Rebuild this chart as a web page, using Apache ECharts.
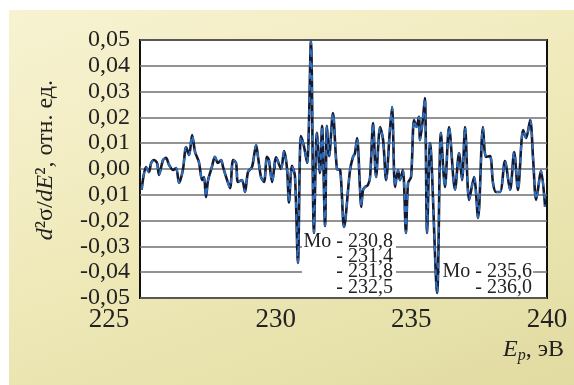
<!DOCTYPE html>
<html>
<head>
<meta charset="utf-8">
<script src="https://cdn.jsdelivr.net/npm/echarts@6/dist/echarts.min.js"></script>
<style>
  html, body { margin: 0; padding: 0; background: #fff; }
  #bg {
    position: absolute; left: 9px; top: 10px; right: 0; bottom: 0;
    background: linear-gradient(160deg, #f7f3d2 0%, #efe9b9 50%, #e1dba1 100%);
  }
  #main { position: absolute; left: 0; top: 0; width: 574px; height: 385px; }
</style>
</head>
<body>
<div id="bg"></div>
<div id="main"></div>
<script>
// energies, eV
const energy = [
  225.06, 225.22, 225.33, 225.41, 225.52, 225.63, 225.70, 225.85, 225.96, 226.07,
  226.22, 226.33, 226.44, 226.58, 226.70, 226.81, 226.92, 227.03, 227.17, 227.29,
  227.36, 227.43, 227.51, 227.65, 227.76, 227.87, 227.99, 228.06, 228.21, 228.32,
  228.43, 228.54, 228.61, 228.76, 228.87, 228.98, 229.13, 229.28, 229.35, 229.46,
  229.57, 229.68, 229.75, 229.87, 230.02, 230.20, 230.31, 230.42, 230.49, 230.60,
  230.71, 230.82, 230.93, 231.04, 231.16, 231.30, 231.41, 231.52, 231.63, 231.71,
  231.82, 231.89, 231.97, 232.11, 232.26, 232.38, 232.52, 232.74, 232.85, 232.92,
  233.00, 233.11, 233.15, 233.22, 233.29, 233.40, 233.48, 233.59, 233.70, 233.85,
  233.96, 234.07, 234.21, 234.29, 234.40, 234.51, 234.58, 234.69, 234.80, 234.88,
  234.99, 235.10, 235.19, 235.28, 235.32, 235.43, 235.50, 235.58, 235.69, 235.95,
  236.09, 236.24, 236.39, 236.61, 236.76, 236.87, 236.98, 237.13, 237.31, 237.46,
  237.64, 237.75, 237.90, 238.01, 238.12, 238.27, 238.45, 238.64, 238.79, 238.93,
  239.12, 239.23, 239.38, 239.49, 239.60, 239.78, 239.93
];
// d2sigma/dE2, rel. units
const signal = [
  -0.0081, 0.0008, -0.0012, 0.0023, 0.0035, 0.0023, -0.0023, 0.0035, 0.0043, 0.0016,
  -0.0004, 0.0004, -0.0054, -0.0004, 0.0085, 0.0054, 0.0132, 0.0066, 0.0027, -0.0043,
  -0.0031, -0.0109, -0.0043, 0.0008, 0.0047, 0.0023, 0.0035, 0.0008, -0.0043, -0.0074,
  0.0035, 0.0023, -0.0050, -0.0043, -0.0089, -0.0012, 0.0008, 0.0093, 0.0047, -0.0031,
  -0.0050, 0.0047, 0.0035, -0.0050, 0.0045, 0.0000, 0.0070, 0.0000, -0.0130, 0.0012,
  -0.0027, -0.0364, 0.0128, 0.0089, 0.0023, 0.0496, -0.0248, 0.0140, -0.0016, 0.0167,
  -0.0221, 0.0167, 0.0050, 0.0217, 0.0000, -0.0005, -0.0225, -0.0005, 0.0047, 0.0060,
  0.0120, -0.0081, -0.0147, -0.0081, -0.0070, -0.0062, -0.0031, 0.0178, -0.0031, 0.0163,
  0.0112, -0.0043, 0.0151, 0.0240, -0.0070, -0.0004, -0.0043, -0.0004, -0.0248, -0.0054,
  -0.0031, 0.0190, 0.0163, 0.0202, 0.0112, 0.0198, 0.0275, -0.0248, 0.0101, -0.0480,
  0.0140, -0.0070, 0.0163, -0.0080, 0.0062, -0.0043, 0.0163, -0.0120, -0.0031, -0.0190,
  0.0163, 0.0047, 0.0050, -0.0054, -0.0089, -0.0089, 0.0031, -0.0081, 0.0066, -0.0081,
  0.0151, 0.0120, 0.0190, 0.0035, -0.0120, -0.0008, -0.0147
];
const xTicks = ["225", "230", "235", "240"];
// labels as printed (the -0.01 tick has no minus sign)
const yTicks = ["-0,05", "-0,04", "-0,03", "-0,02", "0,01", "0,00", "0,01", "0,02", "0,03", "0,04", "0,05"];
const peaks1 = ["Mo - 230,8", "- 231,4", "- 231,8", "- 232,5"];
const peaks2 = ["Mo - 235,6", "- 236,0"];

const points = energy.map((e, i) => [e, signal[i]]);
const serif = "Liberation Serif";

const chart = echarts.init(document.getElementById("main"));

const graphic = [
  { type: "rect", shape: { x: 302, y: 234, width: 94, height: 63 }, style: { fill: "#fff" }, z: 5 },
  { type: "rect", shape: { x: 440, y: 258, width: 93, height: 39 }, style: { fill: "#fff" }, z: 5 },
  {
    type: "text", left: 34, top: 80, rotation: Math.PI / 2, z: 10,
    style: {
      text: "{i|d}{n|²σ/}{i|dE}{n|², отн. ед.}",
      rich: {
        i: { fontFamily: serif, fontSize: 24, fontStyle: "italic", fill: "#222" },
        n: { fontFamily: serif, fontSize: 24, fill: "#222" }
      }
    }
  },
  {
    type: "text", left: 503, top: 336, z: 10,
    style: {
      text: "{i|E}{s|p}{n|, эВ}",
      rich: {
        i: { fontFamily: serif, fontSize: 24, fontStyle: "italic", fill: "#222", lineHeight: 26 },
        s: { fontFamily: serif, fontSize: 16, fontStyle: "italic", fill: "#222", padding: [12, 0, 0, 0], lineHeight: 26 },
        n: { fontFamily: serif, fontSize: 24, fill: "#222", lineHeight: 26 }
      }
    }
  }
];
const rows1 = [242, 257, 272, 288];
peaks1.forEach((t, i) => graphic.push({
  type: "text", x: 393, y: rows1[i], z: 10,
  style: { text: t, fontFamily: serif, fontSize: 20, fill: "#222", align: "right", verticalAlign: "middle" }
}));
const rows2 = [272, 288];
peaks2.forEach((t, i) => graphic.push({
  type: "text", x: 532, y: rows2[i], z: 10,
  style: { text: t, fontFamily: serif, fontSize: 20, fill: "#222", align: "right", verticalAlign: "middle" }
}));

chart.setOption({
  animation: false,
  grid: {
    left: 140, top: 40, right: 27, bottom: 87,
    show: true, backgroundColor: "#fff", borderColor: "#111", borderWidth: 2
  },
  xAxis: {
    type: "value", min: 225, max: 240, interval: 5,
    axisLine: { show: false },
    axisTick: { show: true, inside: true, length: 3, lineStyle: { color: "#555" } },
    splitLine: { show: false },
    axisLabel: {
      margin: 8, color: "#222", fontFamily: serif, fontSize: 27,
      formatter: v => {
        const i = Math.round((v - 225) / 5);
        return i === 0 ? "{f|" + xTicks[i] + "}" : xTicks[i];
      },
      rich: { f: { fontFamily: serif, fontSize: 27, color: "#222", padding: [0, 62, 0, 0] } }
    }
  },
  yAxis: {
    type: "value", min: -0.05, max: 0.05, interval: 0.01,
    axisLine: { show: false },
    axisTick: { show: false },
    splitLine: { show: true, lineStyle: { color: "#6f6f6f", width: 1.5 } },
    axisLabel: {
      margin: 10, color: "#222", fontFamily: serif, fontSize: 24,
      formatter: v => yTicks[Math.round((v + 0.05) / 0.01)]
    }
  },
  graphic: graphic,
  series: [
    {
      type: "line", data: points, showSymbol: false, smooth: 0.3, z: 3,
      lineStyle: { color: "#151a30", width: 2.6 }
    },
    {
      type: "line", data: points, showSymbol: false, smooth: 0.3, z: 4,
      lineStyle: { color: "#2f6fbf", width: 2, type: [6, 6] }
    }
  ]
});
</script>
</body>
</html>
